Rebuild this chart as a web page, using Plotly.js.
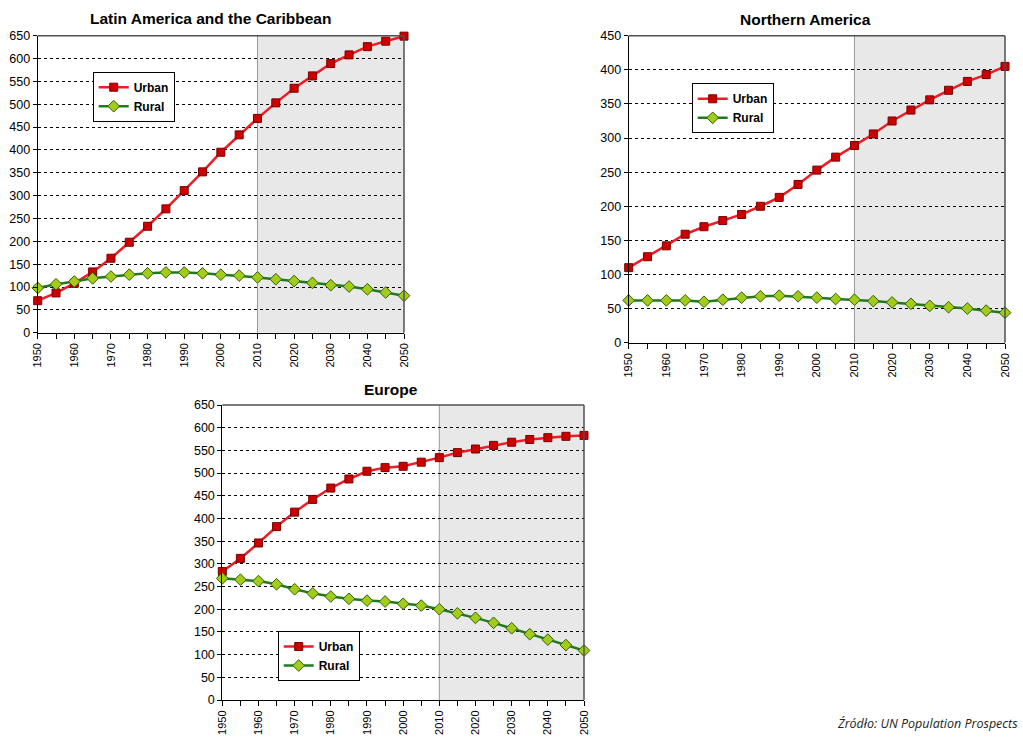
<!DOCTYPE html>
<html>
<head>
<meta charset="utf-8">
<script src="https://cdn.plot.ly/plotly-3.0.1.min.js"></script>
<style>html,body{margin:0;padding:0;background:#fff;}#chart{width:1023px;height:740px;}</style>
</head>
<body>
<div id="chart"></div>
<script>
// ---- data ----
var years = [1950,1955,1960,1965,1970,1975,1980,1985,1990,1995,2000,2005,2010,2015,2020,2025,2030,2035,2040,2045,2050];

var latamUrban = [70,87,108,133,163,198,233,271,311,352,395,433,469,503,535,562,589,608,626,638,649];
var latamRural = [98,106,112,119,123,127,130,132,132,130,127,125,121,117,113,109,104,101,95,88,81];

var namUrban = [110,126,142,159,170,179,188,200,213,232,253,272,289,306,325,341,356,370,383,393,405];
var namRural = [62,62,62,62,60,63,66,68,69,68,66,64,63,61,59,57,54,52,50,47,44];

var eurUrban = [283,312,346,382,414,442,467,487,504,512,515,524,534,545,553,561,568,574,578,581,583];
var eurRural = [268,265,262,255,244,235,228,223,219,217,212,208,200,191,181,170,158,145,133,121,109];

var panelTitles = ["Latin America and the Caribbean", "Northern America", "Europe"];
var seriesNames = ["Urban", "Rural"];
var sourceText = "Źródło: UN Population Prospects";

// ---- styles ----
var font = "Liberation Sans, Arial, sans-serif";
var urbanStyle = {line:{color:"#ee1c24", width:2.5}, marker:{symbol:"square", size:8, color:"#cc0000", line:{color:"#7a0000", width:1}}};
var ruralStyle = {line:{color:"#1e7b1e", width:2.5}, marker:{symbol:"diamond", size:9, color:"#a3cc1a", line:{color:"#2f5f00", width:1}}};

function mk(y, name, style, xa, ya, leg) {
  return {x: years, y: y, name: name, type: "scatter", mode: "lines+markers",
    xaxis: xa, yaxis: ya, legend: leg, cliponaxis: false,
    line: style.line, marker: style.marker, hoverinfo: "x+y+name"};
}

var data = [
  mk(latamUrban, seriesNames[0], urbanStyle, "x", "y", "legend"),
  mk(latamRural, seriesNames[1], ruralStyle, "x", "y", "legend"),
  mk(namUrban, seriesNames[0], urbanStyle, "x2", "y2", "legend2"),
  mk(namRural, seriesNames[1], ruralStyle, "x2", "y2", "legend2"),
  mk(eurUrban, seriesNames[0], urbanStyle, "x3", "y3", "legend3"),
  mk(eurRural, seriesNames[1], ruralStyle, "x3", "y3", "legend3")
];

function xax(domain, anchor) {
  return {domain: domain, anchor: anchor, range: [1950, 2050], dtick: 10, tick0: 1950,
    tickangle: -90, ticks: "outside", ticklen: 5, tickcolor: "#000",
    minor: {dtick: 5, tick0: 1950, ticks: "outside", ticklen: 5, tickcolor: "#000"},
    showgrid: false, zeroline: false, showline: true, linecolor: "#000", linewidth: 1,
    tickfont: {family: font, size: 11, color: "#000"}, fixedrange: true};
}
function yax(domain, anchor, max) {
  return {domain: domain, anchor: anchor, range: [0, max], dtick: 50, tick0: 0,
    ticks: "outside", ticklen: 4, tickcolor: "#000",
    showgrid: true, gridcolor: "#000", gridwidth: 1, griddash: "dot",
    zeroline: false, showline: true, linecolor: "#000", linewidth: 1,
    tickfont: {family: font, size: 12.5, color: "#000"}, fixedrange: true};
}

var W = 1023, H = 740;
function px(x) { return x / W; }
function py(y) { return 1 - y / H; }

var shapes = [];
[["x","y"],["x2","y2"],["x3","y3"]].forEach(function(p) {
  shapes.push({type: "rect", xref: p[0], yref: p[1] + " domain", x0: 2010, x1: 2050, y0: 0, y1: 1,
    fillcolor: "#e8e8e8", line: {width: 0}, layer: "below"});
  shapes.push({type: "line", xref: p[0], yref: p[1] + " domain", x0: 2010, x1: 2010, y0: 0, y1: 1,
    line: {color: "#9a9a9a", width: 1}, layer: "below"});
  shapes.push({type: "line", xref: p[0] + " domain", yref: p[1] + " domain", x0: 0, x1: 1, y0: 1, y1: 1,
    line: {color: "#505050", width: 1.5}, layer: "above"});
  shapes.push({type: "line", xref: p[0] + " domain", yref: p[1] + " domain", x0: 1, x1: 1, y0: 0, y1: 1,
    line: {color: "#505050", width: 1.5}, layer: "above"});
});

function leg(x, y) {
  return {x: x, y: y, xanchor: "left", yanchor: "top", bgcolor: "#fff",
    bordercolor: "#000", borderwidth: 1, font: {family: font, size: 12, color: "#000", weight: "bold"},
    itemwidth: 30, tracegroupgap: 0};
}

function title(t, x, y) {
  return {text: "<b>" + t + "</b>", xref: "paper", yref: "paper", x: px(x), y: py(y),
    xanchor: "center", yanchor: "middle", showarrow: false,
    font: {family: font, size: 15.5, color: "#000"}};
}

var layout = {
  width: W, height: H, margin: {l: 0, r: 0, t: 0, b: 0},
  paper_bgcolor: "#fff", plot_bgcolor: "#fff", showlegend: true,
  xaxis: xax([px(37.7), px(404)], "y"),
  yaxis: yax([py(332.7), py(35.7)], "x", 650),
  xaxis2: xax([px(628.7), px(1005)], "y2"),
  yaxis2: yax([py(342.7), py(35.7)], "x2", 450),
  xaxis3: xax([px(222.3), px(584)], "y3"),
  yaxis3: yax([py(700), py(405)], "x3", 650),
  legend: leg(px(92.7), py(71.7)),
  legend2: leg(px(691.7), py(83.3)),
  legend3: leg(px(277.7), py(631)),
  shapes: shapes,
  annotations: [
    title(panelTitles[0], 210, 19),
    title(panelTitles[1], 805, 20),
    title(panelTitles[2], 391, 390),
    {text: "<i>" + sourceText + "</i>", xref: "paper", yref: "paper", x: px(1020), y: py(723),
      xanchor: "right", yanchor: "middle", showarrow: false,
      font: {family: "Open Sans, sans-serif", size: 12.5, color: "#222"}}
  ]
};

Plotly.newPlot("chart", data, layout, {displayModeBar: false, staticPlot: true});
</script>
</body>
</html>
